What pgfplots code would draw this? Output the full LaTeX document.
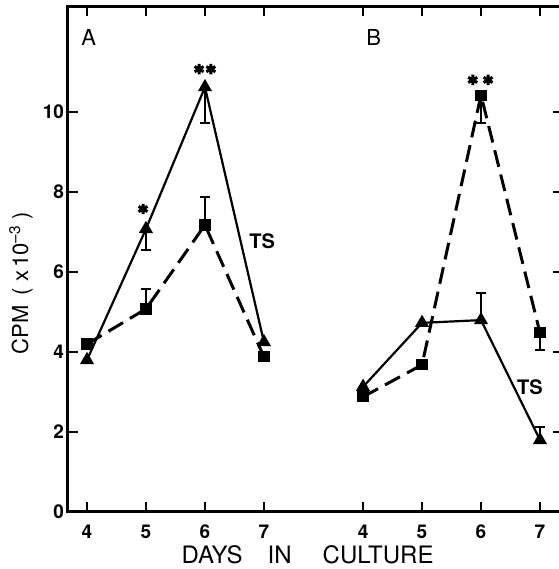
\documentclass[border=0pt]{standalone}
\usepackage{pgfplots}
\pgfplotsset{compat=1.18}
\usepackage{fontspec}
\setmainfont{TeX Gyre Heros}
\setsansfont{TeX Gyre Heros}
\begin{document}
\begin{tikzpicture}
\begin{axis}[name=ax, scale only axis, width=247.5pt, height=252.75pt,
  xmin=3.678, xmax=12.07, ymin=0, ymax=12.65,
  xtick={4,5,6,7,8.68,9.68,10.68,11.68},
  xticklabels={4,5,6,7,4,5,6,7},
  ytick={0,2,4,6,8,10},
  tick align=inside, major tick length=5pt,
  axis line style={line width=1.5pt},
  tick style={line width=1pt, black},
  ticklabel style={font=\fontsize{9.5}{10}\selectfont\bfseries},
  xticklabel style={yshift=-3pt},
  yticklabel style={xshift=1.5pt},
  /pgf/number format/assume math mode=true,
  xlabel={DAYS\hspace{12.5pt}IN\hspace{15.5pt}CULTURE},
  every axis x label/.style={at={(axis description cs:0.484,-0.102)}, anchor=base, font=\fontsize{12}{14}\selectfont},
  ylabel={CPM\hspace{5pt}(\hspace{3pt}x\hspace{1.5pt}10\textsuperscript{–3}\hspace{3pt})},
  every axis y label/.style={at={(axis description cs:-0.095,0.452)}, rotate=90, anchor=center, font=\fontsize{11}{13}\selectfont},
  clip=false,
]
% Panel A, solid (triangles)
\addplot[black, line width=1.1pt, mark=triangle*, mark size=3pt, mark options={solid}]
  coordinates {(4,3.79) (5,7.07) (6,10.62) (7,4.24)};
% Panel A, dashed (squares)
\addplot[black, line width=1.5pt, dash pattern=on 8.5pt off 4pt, mark=square*, mark size=2.3pt, mark options={solid, line width=1pt}]
  coordinates {(4,4.19) (5,5.07) (6,7.17) (7,3.87)};
% Panel B, solid (triangles)
\addplot[black, line width=1.1pt, mark=triangle*, mark size=3pt, mark options={solid}]
  coordinates {(8.68,3.12) (9.68,4.72) (10.68,4.79) (11.68,1.79)};
% Panel B, dashed (squares)
\addplot[black, line width=1.5pt, dash pattern=on 8.5pt off 4pt, mark=square*, mark size=2.3pt, mark options={solid, line width=1pt}]
  coordinates {(8.68,2.87) (9.68,3.67) (10.68,10.42) (11.68,4.47)};
% Error bars downward
\addplot[draw=none, mark=none, forget plot,
  error bars/.cd, y dir=minus, y explicit,
  error bar style={line width=1pt, black, solid},
  error mark options={rotate=90, black, solid, line width=1pt, mark size=2.5pt}]
  coordinates {(5,7.07) -= (0,0.53) (6,10.62) -= (0,0.90) (10.68,10.42) -= (0,0.70) (11.68,4.47) -= (0,0.43)};
% Error bars upward
\addplot[draw=none, mark=none, forget plot,
  error bars/.cd, y dir=plus, y explicit,
  error bar style={line width=1pt, black, solid},
  error mark options={rotate=90, black, solid, line width=1pt, mark size=2.5pt}]
  coordinates {(5,5.07) += (0,0.50) (6,7.17) += (0,0.70) (10.68,4.79) += (0,0.68) (11.68,1.79) += (0,0.32)};
% Significance asterisks
\addplot[only marks, black, mark=asterisk, mark size=2.6pt, line width=1.5pt]
  coordinates {(4.95,7.57) (5.90,11.07) (6.10,11.07) (10.54,10.80) (10.80,10.80)};
\node[font=\fontsize{11}{12}\selectfont] at (axis cs:4.03,11.85) {A};
\node[font=\fontsize{11}{12}\selectfont] at (axis cs:8.86,11.85) {B};
\node[font=\fontsize{10}{11}\selectfont\bfseries] at (axis cs:6.97,6.77) {TS};
\node[font=\fontsize{10}{11}\selectfont\bfseries] at (axis cs:11.51,3.12) {TS};
\end{axis}
\pgfresetboundingbox
\path[use as bounding box] ([xshift=-34pt,yshift=-28.75pt]ax.south west) rectangle ([xshift=-2pt,yshift=3pt]ax.north east);
\end{tikzpicture}
\end{document}
